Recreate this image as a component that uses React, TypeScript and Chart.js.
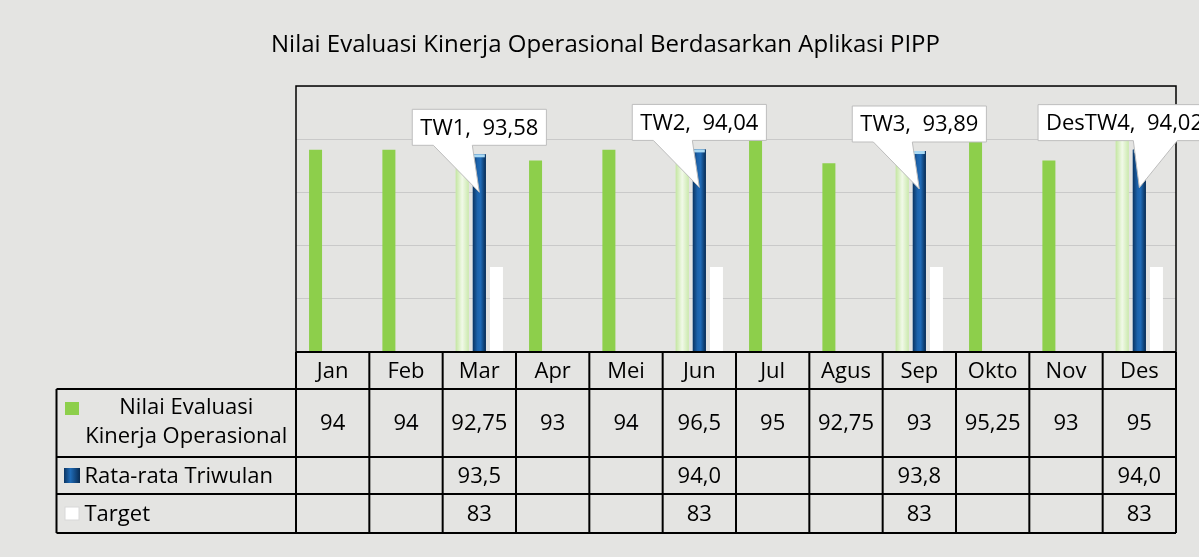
import React, { useEffect, useRef } from 'react';
import { Chart, registerables } from 'chart.js';

Chart.register(...registerables);

// ---------- data ----------
const months = ['Jan', 'Feb', 'Mar', 'Apr', 'Mei', 'Jun', 'Jul', 'Agus', 'Sep', 'Okto', 'Nov', 'Des'];
const nilaiEvaluasi = [94, 94, 92.75, 93, 94, 96.5, 95, 92.75, 93, 95.25, 93, 95];
const rataTriwulan: (number | null)[] = [null, null, 93.58, null, null, 94.04, null, null, 93.89, null, null, 94.02];
const target: (number | null)[] = [null, null, 83, null, null, 83, null, null, 83, null, null, 83];
const calloutNames: (string | null)[] = [null, null, 'TW1', null, null, 'TW2', null, null, 'TW3', null, null, 'DesTW4'];
const seriesLabelLines = [['Nilai Evaluasi', 'Kinerja Operasional'], ['Rata-rata Triwulan'], ['Target']];
const yMin = 75;
const yMax = 100;
const yStep = 5;
const chartTitle = 'Nilai Evaluasi Kinerja Operasional Berdasarkan Aplikasi PIPP';

// ---------- style ----------
const FONT = '"Open Sans", "Noto Sans", sans-serif';
const BG = '#e4e4e2';
const GREEN = '#8dcf4b';
const GREEN_FADED = '#d6eec0';
const BLUE = '#17599c';
const WHITE = '#ffffff';

const fmt = (v: number) => String(v).replace('.', ',');
const fmtTrunc1 = (v: number) => (Math.floor(v * 10 + 1e-9) / 10).toFixed(1).replace('.', ',');
const fmt2 = (v: number) => v.toFixed(2).replace('.', ',');

const tablePlugin = {
  id: 'pippTable',
  beforeDraw(chart: any) {
    const { ctx, width, height } = chart;
    ctx.save();
    ctx.fillStyle = BG;
    ctx.fillRect(0, 0, width, height);
    ctx.restore();
  },
  afterDatasetsDraw(chart: any) {
    const ctx = chart.ctx;
    const area = chart.chartArea;
    ctx.save();
    // faded green bars (quarter months)
    const m0 = chart.getDatasetMeta(0);
    m0.data.forEach((el: any, i: number) => {
      if (rataTriwulan[i] == null) return;
      const { x, y, base, width: w } = el.getProps(['x', 'y', 'base', 'width'], true);
      const l = x - w / 2;
      const b = Math.min(base, area.bottom);
      const g = ctx.createLinearGradient(l, 0, l + w, 0);
      g.addColorStop(0, '#c4e6a2');
      g.addColorStop(0.5, '#f1f9e8');
      g.addColorStop(1, '#cbe9ae');
      ctx.fillStyle = g;
      ctx.fillRect(l, y, w, b - y);
    });
    // blue gradient bars
    const m1 = chart.getDatasetMeta(1);
    m1.data.forEach((el: any, i: number) => {
      if (rataTriwulan[i] == null) return;
      const { x, y, base, width: w } = el.getProps(['x', 'y', 'base', 'width'], true);
      const l = x - w / 2;
      const b = Math.min(base, area.bottom);
      const g = ctx.createLinearGradient(l, 0, l + w, 0);
      g.addColorStop(0, '#0b3563');
      g.addColorStop(0.35, '#1c62aa');
      g.addColorStop(0.6, '#1f6bb7');
      g.addColorStop(1, '#082b52');
      ctx.fillStyle = g;
      ctx.fillRect(l, y, w, b - y);
      ctx.fillStyle = '#a9d9f4';
      ctx.fillRect(l + 1, y, w - 2, 3);
    });
    ctx.restore();
  },
  afterDraw(chart: any) {
    const ctx = chart.ctx;
    const area = chart.chartArea;
    const xs = chart.scales.x;
    const n = months.length;
    const colW = (area.right - area.left) / n;
    const tableLeft = 56.5;
    const rowY = [area.bottom, area.bottom + 37, area.bottom + 105, area.bottom + 142, area.bottom + 181];

    ctx.save();
    // title
    ctx.fillStyle = '#000';
    ctx.font = `24px ${FONT}`;
    ctx.textAlign = 'center';
    ctx.textBaseline = 'middle';
    ctx.fillText(chartTitle, chart.width / 2 + 6, 45);

    // plot border
    ctx.strokeStyle = '#000';
    ctx.lineWidth = 1.5;
    ctx.beginPath();
    ctx.moveTo(area.left, area.bottom);
    ctx.lineTo(area.left, area.top);
    ctx.lineTo(area.right, area.top);
    ctx.lineTo(area.right, area.bottom);
    ctx.stroke();

    // table lines
    ctx.lineWidth = 2;
    ctx.beginPath();
    ctx.moveTo(area.left, rowY[0]);
    ctx.lineTo(area.right, rowY[0]);
    for (let r = 1; r < rowY.length; r++) {
      ctx.moveTo(tableLeft, rowY[r]);
      ctx.lineTo(area.right, rowY[r]);
    }
    ctx.moveTo(tableLeft, rowY[1]);
    ctx.lineTo(tableLeft, rowY[4]);
    for (let i = 0; i <= n; i++) {
      const cx = i < n ? xs.getPixelForValue(i) - colW / 2 : xs.getPixelForValue(n - 1) + colW / 2;
      ctx.moveTo(cx, rowY[0]);
      ctx.lineTo(cx, rowY[4]);
    }
    ctx.stroke();

    // table text
    ctx.font = `22px ${FONT}`;
    ctx.textAlign = 'center';
    ctx.fillStyle = '#000';
    months.forEach((m, i) => {
      const cx = xs.getPixelForValue(i);
      ctx.fillText(m, cx, (rowY[0] + rowY[1]) / 2 + 1);
      ctx.fillText(fmt(nilaiEvaluasi[i]), cx, (rowY[1] + rowY[2]) / 2 + 1);
      const r = rataTriwulan[i];
      if (r != null) ctx.fillText(fmtTrunc1(r), cx, (rowY[2] + rowY[3]) / 2 + 1);
      const t = target[i];
      if (t != null) ctx.fillText(fmt(t), cx, (rowY[3] + rowY[4]) / 2 + 1);
    });

    // row labels
    const textCenter = (tableLeft + area.left) / 2 + 10;
    ctx.fillText(seriesLabelLines[0][0], textCenter, rowY[1] + 19);
    ctx.fillText(seriesLabelLines[0][1], textCenter, rowY[1] + 48);
    ctx.textAlign = 'left';
    ctx.fillText(seriesLabelLines[1][0], tableLeft + 28, (rowY[2] + rowY[3]) / 2 + 1);
    ctx.fillText(seriesLabelLines[2][0], tableLeft + 28, (rowY[3] + rowY[4]) / 2 + 1);

    // legend keys
    ctx.fillStyle = GREEN;
    ctx.fillRect(tableLeft + 8.5, rowY[1] + 13, 14, 13);
    const kx = tableLeft + 7.5;
    const ky = rowY[2] + 11;
    const kg = ctx.createLinearGradient(kx, 0, kx + 16, 0);
    kg.addColorStop(0, '#0b3563');
    kg.addColorStop(0.4, '#1f6bb7');
    kg.addColorStop(1, '#082b52');
    ctx.fillStyle = kg;
    ctx.fillRect(kx, ky, 16, 15);
    ctx.fillStyle = WHITE;
    ctx.strokeStyle = '#d8d8d8';
    ctx.lineWidth = 1;
    ctx.fillRect(tableLeft + 8.5, rowY[3] + 13, 14, 13);
    ctx.strokeRect(tableLeft + 8.5, rowY[3] + 13, 14, 13);

    // callouts
    const m1 = chart.getDatasetMeta(1);
    ctx.font = `22px ${FONT}`;
    ctx.textBaseline = 'middle';
    calloutNames.forEach((name, i) => {
      const v = rataTriwulan[i];
      if (name == null || v == null) return;
      const el = m1.data[i];
      const { x, y } = el.getProps(['x', 'y'], true);
      const text = `${name},  ${fmt2(v)}`;
      const tw = ctx.measureText(text).width;
      const w = tw + 16;
      const h = 36;
      const bottom = y - 9;
      const top = bottom - h;
      let left = x - w / 2;
      let shifted = false;
      const maxLeft = chart.width - w + 12;
      if (left > maxLeft) {
        left = maxLeft;
        shifted = true;
      }
      const right = left + w;
      const tipX = x;
      const tipY = y + 38;
      const bl = shifted ? tipX - 6 : tipX - 46;
      const br = shifted ? tipX + 38 : tipX - 7;
      ctx.beginPath();
      ctx.moveTo(left, top);
      ctx.lineTo(right, top);
      ctx.lineTo(right, bottom);
      ctx.lineTo(br, bottom);
      ctx.lineTo(tipX, tipY);
      ctx.lineTo(bl, bottom);
      ctx.lineTo(left, bottom);
      ctx.closePath();
      ctx.fillStyle = '#ffffff';
      ctx.fill();
      ctx.strokeStyle = '#bdbdbd';
      ctx.lineWidth = 1;
      ctx.stroke();
      ctx.fillStyle = '#000';
      ctx.textAlign = 'left';
      ctx.fillText(text, left + 8, (top + bottom) / 2 + 1);
    });
    ctx.restore();
  },
};

export default function App() {
  const ref = useRef<HTMLCanvasElement | null>(null);
  useEffect(() => {
    if (!ref.current) return;
    const chart = new Chart(ref.current, {
      type: 'bar',
      data: {
        labels: months,
        datasets: [
          {
            label: seriesLabelLines[0].join(' '),
            data: nilaiEvaluasi,
            backgroundColor: (c: any) => (rataTriwulan[c.dataIndex] != null ? GREEN_FADED : GREEN),
          },
          {
            label: seriesLabelLines[1].join(' '),
            data: rataTriwulan,
            backgroundColor: BLUE,
          },
          {
            label: seriesLabelLines[2].join(' '),
            data: target,
            backgroundColor: WHITE,
          },
        ],
      },
      options: {
        responsive: false,
        animation: false,
        devicePixelRatio: 1,
        categoryPercentage: 0.7,
        barPercentage: 0.76,
        layout: { padding: { left: 296, top: 86, right: 23, bottom: 205 } },
        plugins: {
          legend: { display: false },
          tooltip: { enabled: false },
          title: { display: false },
        },
        scales: {
          x: { display: false },
          y: {
            min: yMin,
            max: yMax,
            ticks: { display: false, stepSize: yStep },
            grid: { color: '#c9c9c9', lineWidth: 1, drawTicks: false },
            border: { display: false },
            afterFit: (s: any) => {
              s.width = 0;
            },
          },
        },
      } as any,
      plugins: [tablePlugin],
    });
    return () => chart.destroy();
  }, []);
  return (
    <div style={{ position: 'fixed', left: 0, top: 0, width: 1199, height: 557 }}>
      <canvas ref={ref} width={1199} height={557} style={{ width: 1199, height: 557, display: 'block' }} />
    </div>
  );
}
